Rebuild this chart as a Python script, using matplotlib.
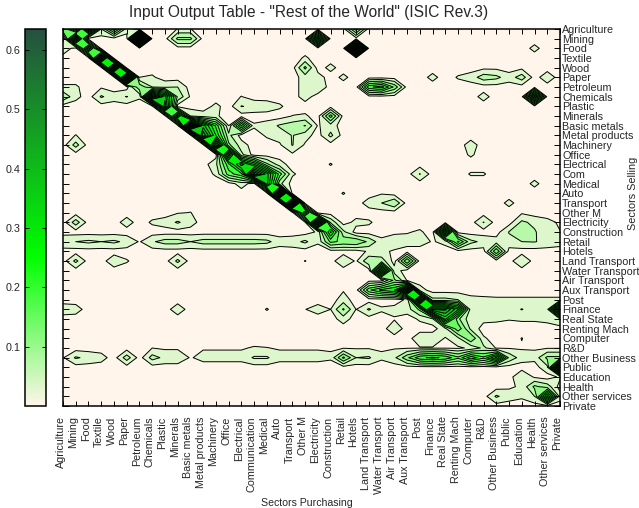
import matplotlib
matplotlib.use("Agg")
import matplotlib.pyplot as plt
import matplotlib.transforms as mtrans
from matplotlib.cm import ScalarMappable
from matplotlib.colors import LinearSegmentedColormap, Normalize
import numpy as np

plt.rcParams["font.family"] = ["Liberation Sans", "DejaVu Sans"]

sectors_purchasing = [
    "Agriculture", "Mining", "Food", "Textile", "Wood", "Paper", "Petroleum",
    "Chemicals", "Plastic", "Minerals", "Basic metals", "Metal products",
    "Machinery", "Office", "Electrical", "Communication", "Medical", "Auto",
    "Transport", "Other M", "Electricity", "Construction", "Retail", "Hotels",
    "Land Transport", "Water Transport", "Air Transport", "Aux Transport",
    "Post", "Finance", "Real State", "Renting Mach", "Computer", "R&D",
    "Other Business", "Public", "Education", "Health", "Other services",
    "Private",
]
sectors_selling = [
    "Com" if s == "Communication" else s for s in sectors_purchasing
]
colorbar_ticks = [0.1, 0.2, 0.3, 0.4, 0.5, 0.6]

# coefficients in thousandths, one dict per selling row: {purchasing col: value}
table_rows = [
    {0: 180, 2: 400, 3: 50, 4: 200, 5: 30, 9: 16, 10: 16, 23: 150},
    {1: 400, 6: 635, 9: 100, 10: 100, 20: 350},
    {0: 40, 2: 320, 23: 600, 37: 24},
    {3: 500, 19: 20},
    {4: 500, 19: 100, 21: 25, 33: 6, 34: 6, 36: 6},
    {5: 500, 6: 15, 7: 20, 19: 30, 20: 30, 22: 23, 29: 25, 31: 18, 32: 30,
     33: 70, 34: 60, 35: 30, 36: 70, 38: 37},
    {0: 20, 1: 20, 3: 10, 6: 120, 7: 50, 8: 40, 9: 50, 19: 30, 20: 45,
     24: 200, 25: 230, 26: 120},
    {0: 80, 1: 25, 3: 55, 4: 30, 5: 52, 6: 20, 7: 500, 8: 350, 9: 80, 10: 10,
     14: 16, 19: 30, 33: 27, 37: 350},
    {8: 400, 12: 23, 14: 52, 15: 40, 16: 35, 17: 20},
    {9: 350, 10: 50, 11: 30, 12: 20, 18: 16, 19: 20, 21: 150},
    {10: 600, 11: 350, 12: 200, 13: 15, 14: 220, 15: 20, 16: 30, 17: 55,
     18: 70, 19: 92, 20: 12, 21: 30},
    {1: 16, 11: 450, 12: 250, 13: 60, 16: 20, 17: 30, 18: 52, 19: 30, 21: 60},
    {1: 65, 12: 450, 13: 100, 14: 30, 17: 10, 18: 52, 19: 10, 32: 30},
    {13: 400, 14: 60, 18: 8, 32: 20},
    {12: 40, 13: 200, 14: 350, 15: 250, 16: 100, 17: 30, 21: 17},
    {12: 20, 13: 150, 14: 200, 15: 500, 16: 350, 17: 150, 18: 20, 28: 52,
     32: 18, 33: 18},
    {14: 30, 16: 350, 17: 60, 37: 23},
    {17: 550, 22: 17, 25: 12},
    {18: 550, 24: 30, 25: 50, 26: 85, 35: 24},
    {9: 12, 10: 16, 19: 300, 36: 10},
    {1: 70, 5: 31, 7: 20, 8: 30, 9: 55, 10: 30, 19: 12, 20: 450, 21: 80,
     23: 25, 24: 20, 33: 52, 36: 58, 37: 40, 38: 25, 39: 10},
    {20: 20, 21: 260, 22: 60, 26: 10, 27: 12, 28: 20, 30: 350, 35: 52,
     36: 70, 37: 55, 38: 20, 39: 16},
    {0: 45, 1: 50, 2: 58, 3: 50, 4: 58, 5: 40, 6: 12, 7: 45, 8: 65, 9: 65,
     10: 50, 11: 65, 12: 65, 13: 65, 14: 65, 15: 65, 16: 60, 17: 30, 18: 35,
     19: 58, 20: 20, 21: 140, 22: 120, 23: 130, 24: 80, 25: 25, 26: 30,
     27: 30, 28: 30, 29: 12, 30: 25, 31: 180, 32: 60, 33: 40, 34: 30, 35: 40,
     36: 50, 37: 52, 38: 40, 39: 30},
    {24: 20, 25: 20, 26: 12, 34: 170},
    {1: 60, 4: 40, 5: 18, 9: 60, 19: 16, 22: 45, 23: 10, 24: 80, 25: 70,
     27: 170, 36: 50},
    {25: 350, 26: 30},
    {26: 100, 27: 12},
    {22: 12, 24: 160, 25: 220, 26: 250, 27: 500, 28: 30},
    {22: 30, 27: 20, 28: 450, 29: 60, 30: 60, 31: 50, 32: 25, 33: 22, 34: 20,
     35: 20, 36: 20, 37: 20, 38: 20, 39: 20},
    {0: 35, 1: 30, 9: 35, 16: 17, 19: 14, 20: 30, 21: 15, 22: 95, 23: 14,
     24: 55, 25: 20, 26: 25, 27: 30, 28: 100, 29: 420, 30: 420, 31: 300,
     32: 30, 33: 30, 34: 30, 35: 30, 36: 52, 37: 30, 38: 35, 39: 420},
    {22: 30, 26: 12, 28: 20, 29: 40, 30: 300, 31: 100, 32: 20, 33: 25, 34: 22,
     35: 17, 36: 20, 37: 20, 38: 25, 39: 50},
    {26: 40, 30: 40, 31: 160, 32: 40},
    {28: 40, 29: 40, 30: 12, 31: 40, 32: 130, 33: 20, 36: 16},
    {7: 15, 8: 10, 9: 10, 11: 12, 12: 12, 13: 12, 14: 12, 15: 18, 16: 16,
     17: 12, 18: 12, 19: 12, 20: 12, 21: 12, 22: 12, 23: 12, 24: 12, 25: 12,
     26: 12, 27: 12, 28: 12, 29: 12, 30: 12, 31: 10, 32: 20, 33: 60, 34: 12,
     35: 12, 36: 12, 37: 12, 38: 12, 39: 12},
    {0: 12, 1: 55, 2: 40, 3: 28, 5: 70, 7: 65, 8: 40, 9: 40, 10: 12, 11: 26,
     12: 26, 13: 26, 14: 26, 15: 55, 16: 55, 17: 26, 18: 26, 19: 26, 20: 26,
     21: 20, 22: 140, 23: 50, 24: 55, 25: 20, 26: 40, 27: 120, 28: 200,
     29: 220, 30: 200, 31: 140, 32: 240, 33: 180, 34: 300, 35: 80, 36: 30,
     37: 25, 38: 100, 39: 100},
    {38: 40, 39: 500},
    {36: 50, 37: 10, 39: 20},
    {35: 10, 36: 20, 37: 100, 38: 70},
    {34: 56, 35: 30, 36: 20, 37: 50, 38: 300, 39: 30},
    {},
]

W, H = 639, 508

table = np.zeros((len(table_rows), len(sectors_purchasing)))
for r, row in enumerate(table_rows):
    for c, val in row.items():
        table[r, c] = val / 1000

cmap = LinearSegmentedColormap.from_list(
    "cream_green",
    [(0, "#fff5ea"), (0.25 / 0.635, "#00ff00"), (1, "#255040")],
)
norm = Normalize(0, 0.635)
levels = np.r_[0, 0.015, np.arange(0.05, 0.66, 0.04)]
band_colors = [cmap(norm((a + b) / 2)) for a, b in zip(levels[:-1], levels[1:])]
band_colors[0] = cmap(0.0)
ink = "#262626"


def px_axes(fig, left, top, right, bottom):
    return fig.add_axes([left / W, 1 - bottom / H, (right - left) / W,
                         (bottom - top) / H])


fig = plt.figure(figsize=(W / 100, H / 100), dpi=100)
ax = px_axes(fig, 63, 29, 560, 406)
cax = px_axes(fig, 24.5, 29, 46, 406)

n = len(sectors_purchasing)
xs = np.arange(1, n + 1)
ys = np.arange(1, n + 1)
ax.contourf(xs, ys, table, levels=levels, colors=band_colors)
ax.contour(xs, ys, table, levels=levels[1:], colors="black", linewidths=0.7)
ax.set_xlim(1, n)
ax.set_ylim(n, 1)

ax.set_xticks(xs)
ax.set_xticklabels(sectors_purchasing, rotation=90, fontsize=7.75, color=ink)
ax.set_yticks(ys)
ax.set_yticklabels(sectors_selling, fontsize=7.75, color=ink)
ax.tick_params(axis="x", direction="in", top=True, length=3.8, width=0.7, pad=7.5)
ax.tick_params(axis="y", direction="in", left=True, right=True, labelleft=False,
               labelright=True, length=4, width=0.7, pad=1.5)
shift = mtrans.ScaledTranslation(-2.5 / 100, 0, fig.dpi_scale_trans)
for lab in ax.get_xticklabels():
    lab.set_transform(lab.get_transform() + shift)

fig.text(309 / W, 1 - 13 / H, 'Input Output Table - "Rest of the World" (ISIC Rev.3)',
         ha="center", va="center", fontsize=11.2, color=ink)
fig.text(307 / W, 1 - 503 / H, "Sectors Purchasing", ha="center", va="center",
         fontsize=7.6, color=ink)
fig.text(633 / W, 1 - 193 / H, "Sectors Selling", ha="center", va="center",
         rotation=90, fontsize=7.8, color=ink)

cb = fig.colorbar(ScalarMappable(norm=norm, cmap=cmap), cax=cax)
cb.set_ticks(colorbar_ticks)
cb.ax.yaxis.set_ticks_position("both")
cb.ax.tick_params(axis="y", direction="in", length=3, width=0.7, labelleft=True,
                  labelright=False, labelsize=7.75, labelcolor=ink, pad=3)

for sp in ax.spines.values():
    sp.set_linewidth(1.1)
cb.outline.set_linewidth(1.1)

fig.savefig("out.png", dpi=100)
